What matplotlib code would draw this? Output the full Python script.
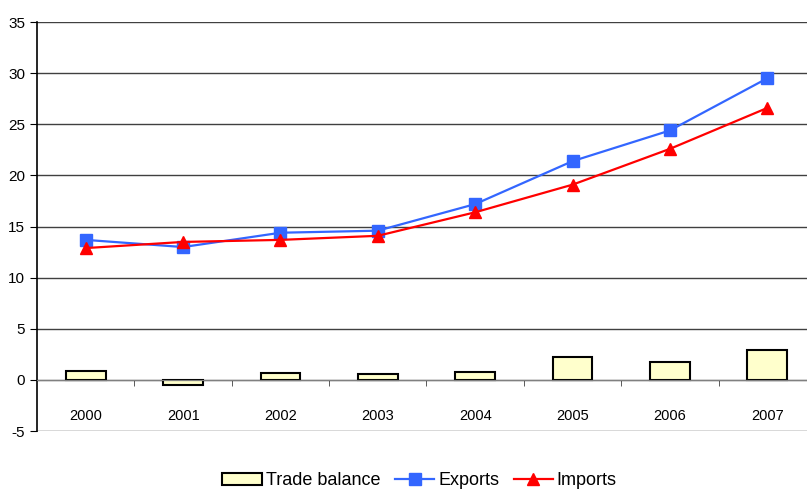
import matplotlib.pyplot as plt
import numpy as np
from matplotlib.patches import Patch
from matplotlib.lines import Line2D

plt.rcParams['font.family'] = ['Liberation Sans', 'DejaVu Sans']
plt.rcParams['axes.unicode_minus'] = False

# Data
years = ['2000', '2001', '2002', '2003', '2004', '2005', '2006', '2007']
exports = [13.7, 13.0, 14.4, 14.6, 17.2, 21.4, 24.4, 29.5]
imports = [12.9, 13.5, 13.7, 14.1, 16.4, 19.1, 22.6, 26.6]
trade_balance = [0.85, -0.5, 0.65, 0.55, 0.8, 2.25, 1.75, 2.9]

x = np.arange(len(years))

fig = plt.figure(figsize=(8.07, 4.91), dpi=100)
ax = fig.add_axes([0.046, 0.122, 0.965, 0.833])

# Bars and lines
ax.bar(x, trade_balance, width=0.41, color='#FFFFCC', edgecolor='black',
       linewidth=1.5, zorder=2)
ax.plot(x, exports, color='#3366FF', marker='s', markersize=8.5, linewidth=1.6, zorder=3)
ax.plot(x, imports, color='#FF0000', marker='^', markersize=9, linewidth=1.6, zorder=4)

# Axes setup
ax.set_xlim(-0.5, len(years) - 0.5)
ax.set_ylim(-5, 35)
ax.set_yticks(range(-5, 36, 5))
ax.yaxis.grid(True, color='#404040', linewidth=1)
ax.set_axisbelow(True)

ax.spines['top'].set_visible(False)
ax.spines['right'].set_visible(False)
ax.spines['bottom'].set_position(('data', 0))
ax.spines['bottom'].set_color('#808080')
ax.spines['left'].set_linewidth(1.2)

ax.set_xticks(x)
ax.set_xticklabels(years)
ax.set_xticks(x[:-1] + 0.5, minor=True)
ax.tick_params(axis='x', which='major', length=0, pad=21, labelsize=10.5)
ax.tick_params(axis='x', which='minor', length=4, direction='out', color='#404040')
ax.tick_params(axis='y', length=5, direction='out', labelsize=11)

# Legend
handles = [
    Patch(facecolor='#FFFFCC', edgecolor='black', linewidth=1.5, label='Trade balance'),
    Line2D([], [], color='#3366FF', marker='s', markersize=8.5, linewidth=1.6, label='Exports'),
    Line2D([], [], color='#FF0000', marker='^', markersize=9, linewidth=1.6, label='Imports'),
]
fig.legend(handles=handles, loc='lower center', bbox_to_anchor=(0.52, -0.022), ncol=3,
           frameon=False, fontsize=13, handlelength=2.2, handletextpad=0.2,
           columnspacing=0.8, borderpad=0.2)

fig.savefig('out.png', dpi=100)
